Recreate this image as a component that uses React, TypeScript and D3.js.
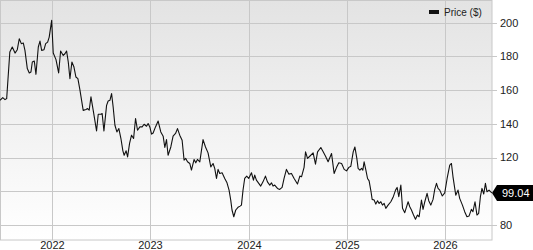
import React from "react";
import * as d3 from "d3";

// Time as decimal years, price in $
const years: number[] = [
  2021.468, 2021.496, 2021.519, 2021.536, 2021.568, 2021.593, 2021.621, 2021.644, 2021.664, 2021.685,
  2021.705, 2021.722, 2021.746, 2021.766, 2021.783, 2021.797, 2021.817, 2021.834, 2021.858, 2021.875,
  2021.892, 2021.916, 2021.933, 2021.953, 2021.969, 2021.994, 2022.010, 2022.038, 2022.065, 2022.085,
  2022.112, 2022.129, 2022.146, 2022.163, 2022.180, 2022.200, 2022.221, 2022.241, 2022.261, 2022.282,
  2022.315, 2022.343, 2022.360, 2022.376, 2022.394, 2022.417, 2022.451, 2022.468, 2022.495, 2022.508,
  2022.526, 2022.553, 2022.569, 2022.587, 2022.604, 2022.620, 2022.638, 2022.658, 2022.678, 2022.699,
  2022.719, 2022.732, 2022.752, 2022.767, 2022.787, 2022.807, 2022.828, 2022.848, 2022.868, 2022.892,
  2022.915, 2022.935, 2022.960, 2022.976, 2022.993, 2023.011, 2023.027, 2023.051, 2023.078, 2023.105,
  2023.129, 2023.146, 2023.163, 2023.179, 2023.207, 2023.230, 2023.255, 2023.275, 2023.298, 2023.322,
  2023.342, 2023.359, 2023.377, 2023.400, 2023.417, 2023.444, 2023.461, 2023.478, 2023.502, 2023.535,
  2023.560, 2023.586, 2023.614, 2023.637, 2023.654, 2023.672, 2023.688, 2023.705, 2023.729, 2023.756,
  2023.779, 2023.800, 2023.817, 2023.830, 2023.848, 2023.868, 2023.891, 2023.912, 2023.926, 2023.942,
  2023.959, 2023.980, 2024.000, 2024.028, 2024.048, 2024.061, 2024.078, 2024.102, 2024.122, 2024.145,
  2024.170, 2024.190, 2024.214, 2024.231, 2024.247, 2024.264, 2024.292, 2024.315, 2024.339, 2024.359,
  2024.383, 2024.407, 2024.434, 2024.461, 2024.495, 2024.519, 2024.536, 2024.562, 2024.577, 2024.597,
  2024.620, 2024.654, 2024.678, 2024.699, 2024.732, 2024.756, 2024.780, 2024.806, 2024.841, 2024.867,
  2024.892, 2024.915, 2024.943, 2024.969, 2024.993, 2025.017, 2025.037, 2025.061, 2025.078, 2025.098,
  2025.111, 2025.129, 2025.146, 2025.159, 2025.172, 2025.190, 2025.207, 2025.223, 2025.241, 2025.254,
  2025.274, 2025.291, 2025.309, 2025.325, 2025.342, 2025.359, 2025.376, 2025.393, 2025.416, 2025.444,
  2025.467, 2025.492, 2025.508, 2025.525, 2025.546, 2025.563, 2025.586, 2025.604, 2025.620, 2025.637,
  2025.654, 2025.675, 2025.695, 2025.715, 2025.732, 2025.756, 2025.772, 2025.790, 2025.813, 2025.830,
  2025.851, 2025.874, 2025.891, 2025.909, 2025.925, 2025.942, 2025.968, 2025.993, 2026.017, 2026.044,
  2026.061, 2026.077, 2026.105, 2026.128, 2026.145, 2026.173, 2026.196, 2026.219, 2026.240, 2026.264,
  2026.280, 2026.301, 2026.321, 2026.338, 2026.356, 2026.372, 2026.390, 2026.407, 2026.423, 2026.444,
  2026.461, 2026.474,
];

const prices: number[] = [
  154, 155.6, 154.4, 155, 182.6, 185.6, 182, 184, 190.5, 187.6,
  188, 183.6, 172.8, 170.2, 170.8, 176.7, 177.3, 169.4, 185.6, 189.1,
  183.6, 184, 187.6, 188.5, 191.5, 201.4, 182, 178.1, 170.2, 183.2,
  180.6, 181.6, 183.2, 176.7, 166.8, 176.7, 173.7, 167.8, 166.8, 160,
  148, 148.5, 149.1, 148.1, 156, 148, 135.8, 145.7, 145.7, 146.1,
  135.8, 151, 153.6, 154, 158, 150, 139.2, 135.2, 137.2, 131.3,
  124, 121.4, 124, 120.4, 128.4, 133.3, 131.3, 143.2, 136.2, 138.2,
  138.2, 139.8, 138.6, 140.2, 138.2, 133.9, 134.6, 138.2, 141.7, 135.2,
  132.7, 126, 130.7, 121.4, 126.3, 132.7, 134.3, 137.2, 133.3, 130.3,
  118.5, 119.5, 117.5, 116.5, 112.6, 118.9, 116.9, 118.9, 117.5, 130.7,
  126.3, 122.8, 114.5, 116.5, 113.6, 107.6, 113, 110.6, 111, 107.6,
  105, 100.7, 94.8, 88.9, 84.9, 88.9, 90.5, 91.2, 91.8, 100.7,
  107.6, 109, 107.6, 111, 106.6, 109.6, 106.6, 104.7, 103.1, 105.6,
  109, 105.6, 103.7, 105, 103.1, 103.7, 101.7, 101.1, 102.3, 107.6,
  113, 110.2, 110.6, 107.6, 104.3, 109, 108.6, 114.2, 123.4, 119.5,
  120.8, 122.8, 116.1, 123.4, 126, 123.4, 120.8, 117.5, 122.4, 110.6,
  114.2, 116.9, 116.5, 113, 112.1, 114.2, 114.9, 123.4, 126.3, 119.5,
  113.6, 112.6, 113.6, 112.6, 117.5, 112.6, 107.6, 106.2, 100.3, 95.2,
  94.8, 92.4, 94.4, 92.8, 93.8, 91.8, 92.8, 89.9, 91.8, 93.8,
  96.4, 100.7, 102.3, 96.8, 103.7, 89.9, 87.3, 90.8, 93.8, 90.8,
  88.9, 85.9, 83.4, 85.9, 84.9, 94.8, 89.3, 93.8, 98.8, 94.4,
  91.8, 95.2, 101.1, 104.7, 101.7, 100.7, 97.2, 99.1, 107.6, 115.5,
  116.5, 108.6, 97.7, 100.7, 95.8, 91.8, 87.9, 84.9, 85.3, 89.3,
  87.9, 93.8, 85.9, 86.9, 96.8, 101.7, 98.4, 104.7, 99.7, 100.7,
  99.7, 99.04,
];

const yTicks: number[] = [80, 100, 120, 140, 160, 180, 200];
const xTickYears: number[] = [2022, 2023, 2024, 2025, 2026];
const seriesName = "Price ($)";
const lastLabel = "99.04";

function yearToDate(y: number): Date {
  const yr = Math.floor(y);
  const start = new Date(yr, 0, 1).getTime();
  const end = new Date(yr + 1, 0, 1).getTime();
  return new Date(start + (y - yr) * (end - start));
}

export default function App() {
  const W = 533;
  const H = 250;
  const left = 0;
  const right = 492;
  const top = 0.5;
  const bottom = 240;

  const x = d3
    .scaleTime()
    .domain([yearToDate(years[0]), yearToDate(years[years.length - 1])])
    .range([left, right]);
  const y = d3.scaleLinear().domain([71.1, 213.2]).range([bottom, top]);

  const data = years.map((yr, i) => ({ d: yearToDate(yr), v: prices[i] }));
  const line = d3
    .line<{ d: Date; v: number }>()
    .x((p) => x(p.d))
    .y((p) => y(p.v));

  const lastV = prices[prices.length - 1];
  const ly = y(lastV);
  const font = "'Liberation Sans', Arial, Helvetica, sans-serif";

  return (
    <svg
      width={W}
      height={H}
      style={{ position: "absolute", left: 0, top: 0 }}
      fontFamily={font}
    >
      <defs>
        <linearGradient id="bg" x1="0" y1="0" x2="0" y2="1">
          <stop offset="0%" stopColor="#e3e3e3" />
          <stop offset="100%" stopColor="#ffffff" />
        </linearGradient>
        <clipPath id="clip">
          <rect x={left} y={top} width={right - left} height={bottom - top} />
        </clipPath>
      </defs>
      <rect x={left} y={top} width={right - left} height={bottom - top} fill="url(#bg)" />
      {yTicks.map((t) => {
        const hidden = Math.abs(y(t) - ly) < 12;
        return (
          <g key={"y" + t}>
            <line x1={left} x2={right + 5} y1={Math.round(y(t)) + 0.5} y2={Math.round(y(t)) + 0.5} stroke="#c8c8c8" strokeWidth={1} />
            {!hidden && (
              <text x={right + 8} y={y(t)} dy="0.35em" fontSize={11} fill="#222">
                {t}
              </text>
            )}
          </g>
        );
      })}
      {xTickYears.map((yr) => {
        const xx = Math.round(x(new Date(yr, 0, 1))) + 0.5;
        return (
          <g key={"x" + yr}>
            <line x1={xx} x2={xx} y1={top} y2={bottom} stroke="#c8c8c8" strokeWidth={1} />
            <text x={xx} y={249} textAnchor="middle" fontSize={11} fill="#222">
              {yr}
            </text>
          </g>
        );
      })}
      <rect
        x={left + 0.5}
        y={top}
        width={right - left - 0.5}
        height={bottom - top}
        fill="none"
        stroke="#c8c8c8"
        strokeWidth={1}
      />
      <path d={line(data) || ""} fill="none" stroke="#111" strokeWidth={1.1} strokeLinejoin="round" clipPath="url(#clip)" />
      <g>
        <rect x={429} y={10} width={10} height={4} fill="#111" />
        <text x={444} y={12} dy="0.35em" fontSize={10} fill="#222">
          {seriesName}
        </text>
      </g>
      <g>
        <path
          d={`M ${right} ${ly} L ${right + 5} ${ly - 8} L ${W} ${ly - 8} L ${W} ${ly + 8} L ${right + 5} ${ly + 8} Z`}
          fill="#000"
        />
        <text x={right + 10} y={ly} dy="0.35em" fontSize={11} fill="#fff">
          {lastLabel}
        </text>
      </g>
    </svg>
  );
}
